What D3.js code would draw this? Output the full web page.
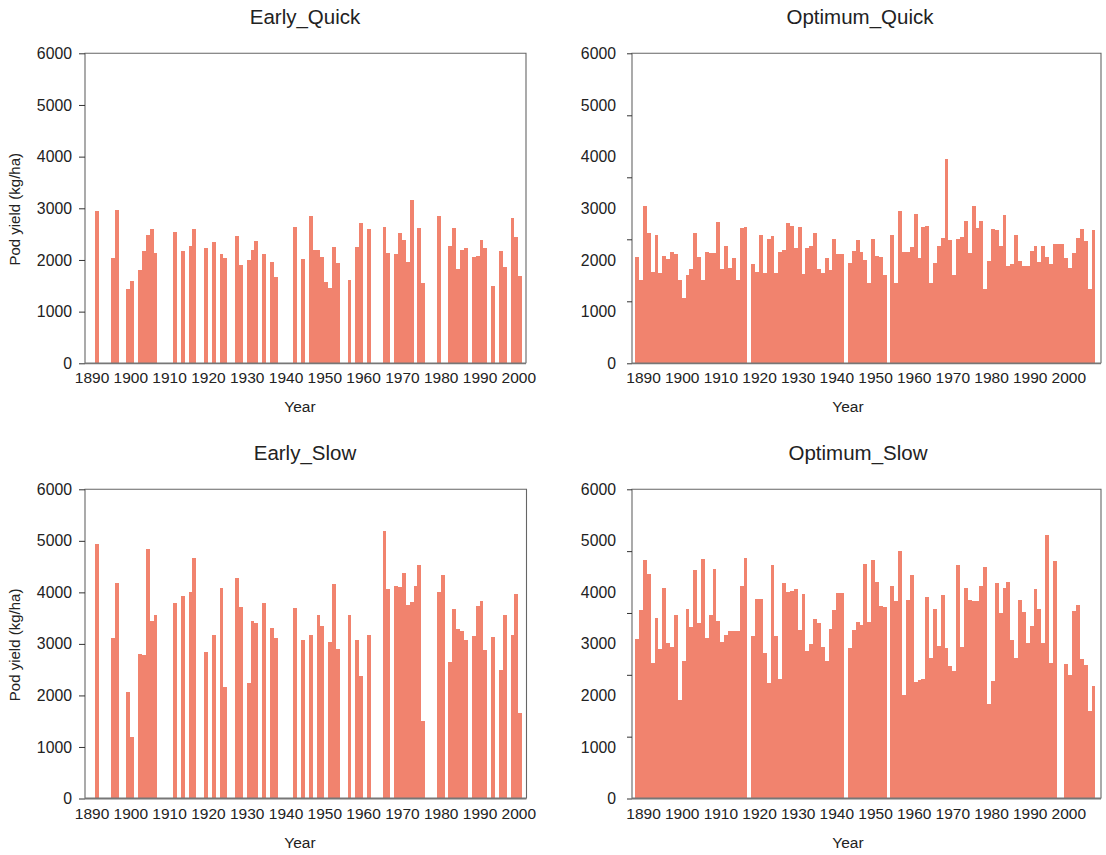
<!DOCTYPE html>
<html><head><meta charset="utf-8">
<script src="https://cdn.jsdelivr.net/npm/d3@7"></script>
<style>
body{margin:0;background:#fff;}
svg text{font-family:"Liberation Sans",Arial,Helvetica,sans-serif;fill:#222;}
</style>
</head><body>
<svg id="chart" width="1106" height="855"></svg>
<script>
// ---------------- DATA ----------------
const yTickLabels = [0,1000,2000,3000,4000,5000,6000];
const yMinorTicks = [0,1200,2400,3600,4800,6000];
const xTickYears = [1890,1900,1910,1920,1930,1940,1950,1960,1970,1980,1990,2000];

const earlyQuickYears = [1891,1895,1896,1899,1900,1902,1903,1904,1905,1906,1911,1913,1915,1916,1919,1921,1923,1924,1927,1928,1930,1931,1932,1934,1936,1937,1942,1944,1946,1947,1948,1949,1950,1951,1952,1953,1956,1958,1959,1961,1965,1966,1968,1969,1970,1971,1972,1974,1975,1979,1982,1983,1984,1985,1986,1988,1989,1990,1991,1993,1995,1996,1998,1999,2000];
const earlyQuickValues = [2950,2040,2970,1440,1590,1810,2170,2480,2600,2130,2540,2170,2270,2600,2230,2350,2110,2040,2460,1900,2000,2190,2370,2110,1960,1670,2640,2020,2860,2190,2190,2060,1570,1460,2250,1940,1610,2250,2710,2600,2640,2130,2110,2520,2390,1960,3160,2620,1550,2850,2270,2620,1820,2190,2230,2060,2080,2390,2230,1500,2170,1860,2810,2440,1690];

const earlySlowYears = [1891,1895,1896,1899,1900,1902,1903,1904,1905,1906,1911,1913,1915,1916,1919,1921,1923,1924,1927,1928,1930,1931,1932,1934,1936,1937,1942,1944,1946,1948,1949,1951,1952,1953,1956,1958,1959,1961,1965,1966,1968,1969,1970,1971,1972,1973,1974,1975,1979,1980,1982,1983,1984,1985,1986,1988,1989,1990,1991,1993,1995,1996,1998,1999,2000];
const earlySlowValues = [4930,3110,4190,2060,1190,2800,2780,4850,3440,3570,3790,3920,4000,4660,2840,3170,4080,2160,4270,3710,2240,3440,3400,3790,3300,3110,3690,3070,3180,3570,3340,3030,4170,2910,3570,3070,2370,3180,5200,4060,4130,4100,4370,3750,3820,4130,4540,1500,4000,4330,2640,3670,3280,3260,3070,3150,3730,3840,2890,3130,2490,3570,3180,3960,1650];

const optQuickYears = [1888,1889,1890,1891,1892,1893,1894,1895,1896,1897,1898,1899,1900,1901,1902,1903,1904,1905,1906,1907,1908,1909,1910,1911,1912,1913,1914,1915,1916,
1918,1919,1920,1921,1922,1923,1924,1925,1926,1927,1928,1929,1930,1931,1932,1933,1934,1935,1936,1937,1938,1939,1940,1941,
1943,1944,1945,1946,1947,1948,1949,1950,1951,1952,
1954,1955,1956,1957,1958,1959,1960,1961,1962,1963,1964,1965,1966,1967,1968,1969,1970,1971,1972,1973,1974,1975,1976,1977,1978,1979,1980,1981,1982,1983,1984,1985,1986,1987,1988,1989,1990,1991,1992,1993,1994,1995,1996,1997,1998,1999,2000,2001,2002,2003,2004,2005,2006];
const optQuickValues = [2050,1610,3040,2520,1760,2480,1740,2070,2010,2150,2110,1610,1260,1700,1820,2520,2050,1610,2150,2140,2130,2730,1820,2280,1840,2030,1610,2610,2630,
1920,1760,2480,1740,2400,2460,1740,2150,2200,2710,2650,2230,2630,1720,2230,2270,2520,1820,1740,2030,1800,2400,2110,2110,
1940,2170,2380,2150,1990,1550,2400,2070,2050,1700,
2480,1550,2940,2150,2150,2250,2890,2030,2630,2650,1550,1940,2270,2420,3950,2380,
1700,2400,2440,2750,2130,3040,2610,2750,1430,1980,2600,2580,2280,2870,1880,1920,2480,1980,1880,1880,
2170,2270,1960,2280,2050,1920,2300,2300,2300,2030,1840,2130,2420,2600,2360,1430,2580];

const optSlowYears = [1888,1889,1890,1891,1892,1893,1894,1895,1896,1897,1898,1899,1900,1901,1902,1903,1904,1905,1906,1907,1908,1909,1910,1911,1912,1913,1914,1915,1916,
1918,1919,1920,1921,1922,1923,1924,1925,1926,1927,1928,1929,1930,1931,1932,1933,1934,1935,1936,1937,1938,1939,1940,1941,
1943,1944,1945,1946,1947,1948,1949,1950,1951,1952,
1954,1955,1956,1957,1958,1959,1960,1961,1962,1963,1964,1965,1966,1967,1968,1969,1970,1971,1972,1973,1974,1975,1976,1977,1978,1979,1980,1981,1982,1983,1984,1985,1986,1987,1988,1989,1990,1991,1992,1993,1994,1995,1996,
1999,2000,2001,2002,2003,2004,2005,2006];
const optSlowValues = [3090,3660,4630,4360,2630,3500,2900,4080,3020,2940,3560,1910,2670,3680,3330,4430,3400,4650,3110,3560,4450,3440,3040,3170,3250,3250,3250,4120,4670,
3150,3870,3870,2820,2240,4530,3150,2320,4180,4010,4030,4060,3270,3970,2860,3000,3480,3400,2940,2670,3290,3660,3990,3990,
2920,3270,3420,3370,4550,3420,4630,4200,3730,3720,
4120,3830,4800,2010,3850,4340,2260,2290,2320,
3910,2720,3680,2960,3950,2920,2570,2470,4530,2940,4080,3850,3840,3830,4120,4490,1830,2280,4180,3600,
4080,4200,3070,2720,3850,3620,3020,3350,4060,3680,3020,5110,2630,4610,
2610,2390,3640,3750,2710,2590,1700,2180];

// ---------------- STYLE / LAYOUT ----------------
const BAR = "#F1836E";
const FONT = '"Liberation Sans",Arial,Helvetica,sans-serif';
const svg = d3.select("#chart");

const panels = [
  {title:"Early_Quick", years:earlyQuickYears, values:earlyQuickValues, l:85, r:526, t:53.3, b:363.3,
   xd:[1890,2000], xr:[91.5,518.3], early:true, titleX:305, yearX:300, yTitle:true},
  {title:"Optimum_Quick", years:optQuickYears, values:optQuickValues, l:632, r:1101, t:53.3, b:363.3,
   xd:[1888,2007], xr:[635.3,1095.4], early:false, titleX:860, yearX:848, yTitle:false},
  {title:"Early_Slow", years:earlySlowYears, values:earlySlowValues, l:85, r:526.5, t:489.3, b:798.5,
   xd:[1890,2000], xr:[91.5,518.3], early:true, titleX:305, yearX:300, yTitle:true},
  {title:"Optimum_Slow", years:optSlowYears, values:optSlowValues, l:632, r:1101, t:489.3, b:798.5,
   xd:[1888,2007], xr:[635.3,1095.4], early:false, titleX:858, yearX:848, yTitle:false}
];

panels.forEach(p => {
  const g = svg.append("g");
  const x = d3.scaleLinear().domain(p.xd).range(p.xr);
  const y = d3.scaleLinear().domain([0,6000]).range([p.b, p.t]);

  g.append("g").selectAll("rect")
    .data(p.years.map((yr,i)=>({yr, v:p.values[i]})))
    .join("rect")
    .attr("x", d=>x(d.yr))
    .attr("width", d=>x(d.yr+1)-x(d.yr))
    .attr("y", d=>y(d.v))
    .attr("height", d=>y(0)-y(d.v))
    .attr("fill", BAR)
    .attr("shape-rendering","crispEdges");

  g.append("path")
    .attr("d", `M${p.l},${p.b}V${p.t}H${p.r}V${p.b}`)
    .attr("fill","none").attr("stroke","#666").attr("stroke-width",1.1);
  g.append("line").attr("x1",p.l).attr("x2",p.r).attr("y1",p.b).attr("y2",p.b)
    .attr("stroke","#777").attr("stroke-width",1.8);

  const yAxG = g.append("g").attr("transform",`translate(${p.l},0)`);
  if (p.early) {
    yAxG.call(d3.axisLeft(y).tickValues(yTickLabels).tickSize(6).tickPadding(7).tickFormat(d3.format("d")));
  } else {
    yAxG.call(d3.axisLeft(y).tickValues(yMinorTicks).tickSize(5).tickFormat(""));
    const lab = g.append("g").attr("transform",`translate(${p.l},0)`)
      .call(d3.axisLeft(y).tickValues(yTickLabels).tickSize(0).tickPadding(16).tickFormat(d3.format("d")));
    lab.select(".domain").remove();
    lab.selectAll("text").attr("font-size",15.8).attr("font-family",FONT).attr("fill","#222");
  }
  yAxG.select(".domain").remove();
  yAxG.selectAll("line").attr("stroke","#333");
  yAxG.selectAll("text").attr("font-size",15.8).attr("font-family",FONT).attr("fill","#222");

  const xAxG = g.append("g").attr("transform",`translate(0,${p.b})`)
    .call(d3.axisBottom(x).tickValues(xTickYears).tickSize(0).tickPadding(9).tickFormat(d3.format("d")));
  xAxG.select(".domain").remove();
  xAxG.selectAll("text").attr("font-size",15.5).attr("font-family",FONT).attr("fill","#222");

  g.append("text").attr("x",p.titleX).attr("y",p.t-29).attr("text-anchor","middle")
    .attr("font-size",20.5).text(p.title);
  g.append("text").attr("x",p.yearX).attr("y",p.b+49).attr("text-anchor","middle")
    .attr("font-size",15.5).text("Year");
  if (p.yTitle) {
    const cy = (p.t+p.b)/2 + 1;
    g.append("text").attr("transform",`translate(20,${cy}) rotate(-90)`)
      .attr("text-anchor","middle").attr("font-size",15).text("Pod yield (kg/ha)");
  }
});
</script>
</body></html>
